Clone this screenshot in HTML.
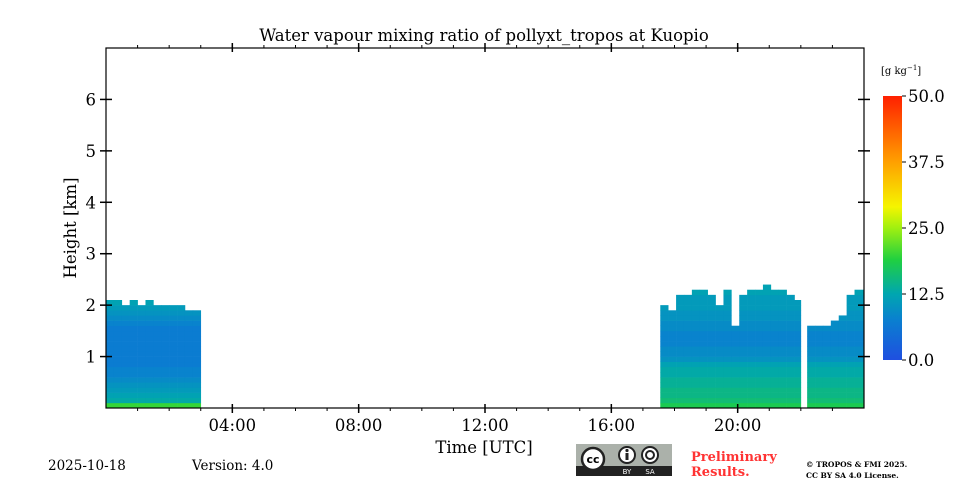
<!DOCTYPE html>
<html><head><meta charset="utf-8"><style>
body{margin:0;background:#fff;width:960px;height:480px;overflow:hidden;font-family:"DejaVu Serif",serif}
svg text{font-family:"DejaVu Serif","Liberation Serif",serif}
</style></head><body>
<svg id="c" width="960" height="480" xmlns="http://www.w3.org/2000/svg">
<defs><linearGradient id="cg" x1="0" y1="1" x2="0" y2="0">
<stop offset="0" stop-color="#1f4fe0"/><stop offset="0.15" stop-color="#0a7fd0"/><stop offset="0.25" stop-color="#00a6b0"/><stop offset="0.38" stop-color="#20d040"/><stop offset="0.5" stop-color="#a0f010"/><stop offset="0.58" stop-color="#f5f500"/><stop offset="0.75" stop-color="#ffa000"/><stop offset="1" stop-color="#ff2000"/></linearGradient></defs>
<g id="cells"></g>
<rect x="106" y="48" width="758" height="360" fill="none" stroke="#000" stroke-width="1.2"/>
<g id="ticks"></g>
<text x="484" y="41" text-anchor="middle" font-size="16.5">Water vapour mixing ratio of pollyxt_tropos at Kuopio</text>
<text x="484" y="453" text-anchor="middle" font-size="16.5">Time [UTC]</text>
<text transform="translate(76,228) rotate(-90)" text-anchor="middle" font-size="16.5">Height [km]</text>
<rect x="883" y="96" width="19" height="264" fill="url(#cg)"/>
<text x="881" y="74" font-size="10">[g kg<tspan dy="-4" font-size="7">−1</tspan><tspan dy="4">]</tspan></text>
<text x="48" y="470" font-size="13.5">2025-10-18</text>
<text x="192" y="470" font-size="13.5">Version: 4.0</text>
<g>
<rect x="576" y="444" width="96" height="32" fill="#abb1aa"/><rect x="576" y="466" width="96" height="10" fill="#222"/>
<circle cx="593" cy="459" r="11" fill="#fff" stroke="#222" stroke-width="2.5"/><text x="593" y="463" text-anchor="middle" font-size="11" font-weight="bold" style="font-family:'DejaVu Sans',sans-serif">cc</text>
<circle cx="627" cy="455" r="8" fill="#fff" stroke="#222" stroke-width="2"/><circle cx="650" cy="455" r="8" fill="#fff" stroke="#222" stroke-width="2"/>
<rect x="625.5" y="453" width="3" height="7" fill="#222"/><circle cx="627" cy="450.5" r="1.6" fill="#222"/>
<circle cx="650" cy="455" r="4" fill="none" stroke="#222" stroke-width="2"/>
<text x="627" y="474" text-anchor="middle" font-size="7" fill="#fff" style="font-family:'DejaVu Sans',sans-serif">BY</text><text x="650" y="474" text-anchor="middle" font-size="7" fill="#fff" style="font-family:'DejaVu Sans',sans-serif">SA</text>
</g>
<text x="691" y="461" font-size="13" font-weight="bold" fill="#f33">Preliminary</text>
<text x="691" y="476" font-size="13" font-weight="bold" fill="#f33">Results.</text>
<text x="806" y="467" font-size="7.5" font-weight="bold">© TROPOS &amp; FMI 2025.</text>
<text x="806" y="478" font-size="7.5" font-weight="bold">CC BY SA 4.0 License.</text>
</svg>
<script>
const NS="http://www.w3.org/2000/svg";
// data
const xTickLabels=["04:00","08:00","12:00","16:00","20:00"];
const xTickHours=[4,8,12,16,20];
const yTicks=[1,2,3,4,5,6];
const cbTicks=[0,12.5,25,37.5,50];
const heights=[0,0.1,0.2,0.3,0.4,0.5,0.6,0.7,0.8,0.9,1.0,1.1,1.2,1.3,1.4,1.5,1.6,1.7,1.8,1.9,2.0,2.2,2.4];
const profileNight=[20,13,12,11,10,9,8,8,7,7,7,7,7,7,7,7,8,9,10,11,12,14,16];
const profileEvening=[18,16,15,15,14,14,13,13,12,10,9,9,8,8,8,9,9,10,10,11,11,12,13];
const colTimes=[0,0.25,0.5,0.75,1,1.25,1.5,1.75,2,2.25,2.5,2.75,17.55,17.8,18.05,18.3,18.55,18.8,19.05,19.3,19.55,19.8,20.05,20.3,20.55,20.8,21.05,21.3,21.55,21.8,22.2,22.45,22.7,22.95,23.2,23.45,23.7];
const colTops=[2.1,2.1,2.0,2.1,2.0,2.1,2.0,2.0,2.0,2.0,1.9,1.9,2.0,1.9,2.2,2.2,2.3,2.3,2.2,2.0,2.3,1.6,2.2,2.3,2.3,2.4,2.3,2.3,2.2,2.1,1.6,1.6,1.6,1.7,1.8,2.2,2.3];
const colWidth=[0.25,0.25,0.25,0.25,0.25,0.25,0.25,0.25,0.25,0.25,0.25,0.25,0.25,0.25,0.25,0.25,0.25,0.25,0.25,0.25,0.25,0.25,0.25,0.25,0.25,0.25,0.25,0.25,0.25,0.2,0.25,0.25,0.25,0.25,0.25,0.25,0.3];
// axes
const X=h=>106+h*(758/24), Y=k=>408-k*(360/7);
const CB=v=>360-v*(264/50);
const stops=[[0,[31,79,224]],[7.5,[10,127,208]],[12.5,[0,166,176]],[19,[32,208,64]],[25,[160,240,16]],[29,[245,245,0]],[37.5,[255,160,0]],[50,[255,32,0]]];
function col(v){for(let i=1;i<stops.length;i++){if(v<=stops[i][0]){const a=stops[i-1],b=stops[i],t=(v-a[0])/(b[0]-a[0]);return`rgb(${a[1].map((c,j)=>Math.round(c+(b[1][j]-c)*t)).join(",")})`;}}return"rgb(255,32,0)";}
const g=document.getElementById("cells");
colTimes.forEach((t,ci)=>{const prof=t<12?profileNight:profileEvening;
 heights.forEach((h,hi)=>{if(h>=colTops[ci])return;const top=hi+1<heights.length?heights[hi+1]:h+0.2;
  const r=document.createElementNS(NS,"rect");
  r.setAttribute("x",X(t));r.setAttribute("width",X(t+colWidth[ci])-X(t)+0.3);
  r.setAttribute("y",Y(Math.min(top,colTops[ci])));r.setAttribute("height",Y(h)-Y(Math.min(top,colTops[ci]))+0.3);
  r.setAttribute("fill",col(prof[hi]));
  
  
  g.appendChild(r);});});
const tk=document.getElementById("ticks");
function line(x1,y1,x2,y2,w){const l=document.createElementNS(NS,"line");l.setAttribute("x1",x1);l.setAttribute("y1",y1);l.setAttribute("x2",x2);l.setAttribute("y2",y2);l.setAttribute("stroke","#000");l.setAttribute("stroke-width",w);
 
 
 tk.appendChild(l);}
function txt(x,y,s,a,fs,name){const e=document.createElementNS(NS,"text");e.setAttribute("x",x);e.setAttribute("y",y);e.setAttribute("text-anchor",a);e.setAttribute("font-size",fs);e.textContent=s;
 
 
 tk.appendChild(e);}
for(let h=1;h<24;h++){const x=X(h);line(x,408,x,411,1);line(x,48,x,45,1);}
xTickHours.forEach((h,i)=>{const x=X(h);line(x,404,x,413,1.5);line(x,52,x,43,1.5);txt(x,431,xTickLabels[i],"middle",16.5,"x-tick-label");});
yTicks.forEach(k=>{const y=Y(k);line(100,y,112,y,1.5);line(858,y,870,y,1.5);txt(96,y+6,String(k),"end",16.5,"y-tick-label");});
cbTicks.forEach(v=>{const y=CB(v);line(902,y,906,y,1);txt(908,y+6,v.toFixed(1),"start",16.5,"colorbar-tick-label");});
</script>
</body></html>
